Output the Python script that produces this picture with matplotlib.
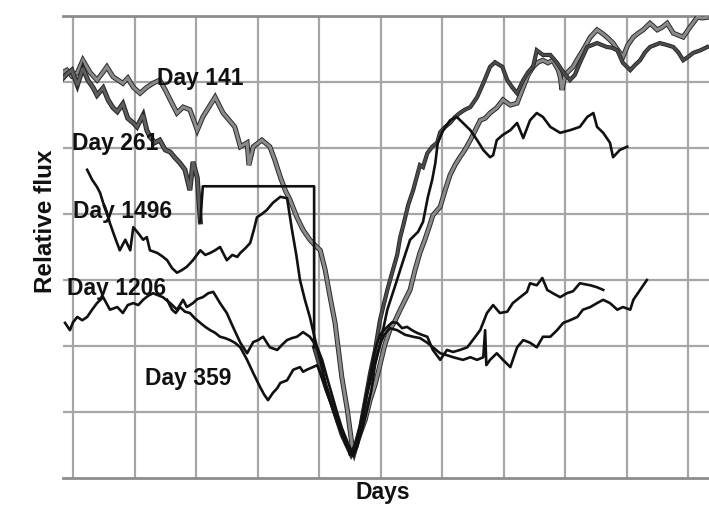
import matplotlib
matplotlib.use("Agg")
import matplotlib.pyplot as plt
import matplotlib.patheffects as pe

# ---- data (x: days in grid units, y: relative flux in grid units) ----
day141_x = [-0.16,-0.10,-0.02,0.07,0.16,0.28,0.39,0.49,0.55,0.65,0.73,0.81,0.89,0.98,1.09,1.20,1.30,1.41,1.50,1.58,
            1.69,1.79,1.90,2.02,2.11,2.23,2.31,2.44,2.54,2.63,2.72,2.83,2.86,2.93,3.07,3.20,3.28,3.37,3.45,3.53,
            3.64,3.74,3.85,3.93,4.02,4.10,4.18,4.26,4.31,4.37,4.46,4.54,4.57,4.63,4.75,4.83,4.91,4.99,5.07,5.15,
            5.24,5.32,5.40,5.48,5.56,5.64,5.72,5.80,5.85,5.97,6.05,6.13,6.21,6.29,6.37,6.46,6.54,6.62,6.70,6.78,
            6.89,6.99,7.11,7.22,7.32,7.40,7.48,7.56,7.64,7.72,7.80,7.89,7.92,7.95,8.00,8.13,8.21,8.29,8.41,8.52,
            8.60,8.68,8.78,8.86,8.94,9.02,9.11,9.19,9.27,9.38,9.50,9.58,9.66,9.76,9.84,9.92,10.03,10.15,10.23,10.31]
day141_y = [6.15,6.18,6.09,6.14,6.33,6.14,6.03,6.15,6.23,6.08,6.03,5.98,6.06,5.92,5.83,5.92,5.98,6.03,5.88,5.73,
            5.53,5.62,5.58,5.27,5.47,5.65,5.77,5.53,5.42,5.32,5.02,5.08,4.74,5.02,5.12,5.02,4.82,4.56,4.36,4.21,
            3.95,3.76,3.61,3.53,3.45,3.15,2.74,2.35,1.98,1.53,1.03,0.47,0.38,0.58,0.88,1.18,1.41,1.71,2.02,2.24,
            2.39,2.55,2.70,2.85,3.15,3.41,3.61,3.83,3.98,4.11,4.36,4.59,4.74,4.86,4.97,5.12,5.27,5.42,5.45,5.53,
            5.61,5.73,5.65,5.68,5.92,6.11,6.23,6.30,6.33,6.29,6.33,6.18,6.08,5.88,6.11,6.23,6.36,6.48,6.68,6.79,
            6.74,6.68,6.59,6.48,6.38,6.56,6.68,6.74,6.79,6.89,6.79,6.83,6.89,6.74,6.71,6.68,6.83,6.98,6.97,6.98]

day261_x = [-0.16,-0.10,-0.02,0.07,0.16,0.24,0.33,0.39,0.49,0.57,0.65,0.72,0.81,0.89,0.98,1.04,1.14,1.20,1.25,1.33,
            1.41,1.50,1.58,1.66,1.74,1.82,1.90,1.95,2.02,2.07,2.11,3.92,3.92,3.98,4.05,4.13,4.21,4.29,4.37,4.46,
            4.52,4.59,4.67,4.75,4.83,4.91,4.99,5.11,5.20,5.27,5.32,5.37,5.45,5.53,5.64,5.69,5.76,5.84,5.92,5.97,
            6.05,6.13,6.21,6.29,6.37,6.46,6.57,6.67,6.78,6.86,6.98,7.06,7.14,7.22,7.32,7.40,7.48,7.54,7.64,7.76,
            7.87,7.97,8.08,8.16,8.24,8.36,8.44,8.52,8.60,8.68,8.76,8.85,8.94,9.06,9.14,9.22,9.30,9.38,9.46,9.54,
            9.66,9.76,9.84,9.92,10.00,10.08,10.20,10.31]
day261_y = [6.06,6.12,6.18,5.95,6.21,6.03,5.91,5.80,5.91,5.73,5.61,5.55,5.67,5.45,5.38,5.32,5.50,5.27,5.17,5.08,
            5.12,4.97,4.94,4.85,4.77,4.67,4.36,4.79,4.55,3.88,4.42,4.42,1.98,1.79,1.56,1.33,1.11,0.88,0.65,0.47,
            0.35,0.50,0.77,1.18,1.59,1.94,2.39,2.85,3.15,3.38,3.65,3.83,4.14,4.36,4.74,4.71,4.92,5.02,5.08,5.24,
            5.32,5.38,5.47,5.53,5.58,5.62,5.77,5.98,6.23,6.30,6.23,6.03,5.92,5.83,6.03,6.15,6.23,6.48,6.41,6.41,
            6.29,6.15,6.03,6.11,6.29,6.53,6.56,6.59,6.56,6.53,6.52,6.48,6.29,6.18,6.26,6.33,6.45,6.53,6.56,6.59,
            6.56,6.53,6.45,6.33,6.38,6.44,6.48,6.53]
# Day 261 has a data gap (samples 29..32) that the source bridges with a straight black connector
day261_gap = (29, 33)

day1496_x = [0.23,0.31,0.39,0.44,0.49,0.55,0.60,0.68,0.76,0.85,0.93,0.98,1.06,1.14,1.20,1.25,1.37,1.45,1.53,1.61,
             1.69,1.77,1.85,1.95,2.07,2.15,2.23,2.31,2.39,2.50,2.59,2.67,2.72,2.80,2.88,2.94,2.99,3.07,3.15,3.25,
             3.37,3.48,3.56,3.63,3.69,3.77,3.85,3.93,4.02,4.11,4.23,4.34,4.46,4.55,4.62,4.70,4.78,4.88,4.99,5.11,
             5.24,5.37,5.48,5.61,5.69,5.77,5.84,5.89,5.93,6.02,6.13,6.24,6.34,6.46,6.57,6.67,6.78,6.83,6.89,6.99,
             7.11,7.22,7.32,7.43,7.54,7.64,7.76,7.92,8.08,8.24,8.36,8.46,8.52,8.62,8.73,8.78,8.89,9.01]
day1496_y = [4.67,4.52,4.41,4.32,4.17,4.03,3.86,3.65,3.45,3.61,3.45,3.80,3.71,3.61,3.65,3.45,3.41,3.36,3.30,3.18,
             3.11,3.15,3.20,3.30,3.45,3.38,3.41,3.45,3.50,3.30,3.38,3.35,3.41,3.48,3.56,3.76,3.95,4.00,4.06,4.17,
             4.26,4.24,3.76,3.38,3.00,2.70,2.44,2.12,1.79,1.41,1.03,0.76,0.53,0.38,0.58,0.88,1.26,1.64,2.02,2.55,
             2.92,3.30,3.61,3.73,3.88,4.26,4.52,4.77,5.08,5.27,5.42,5.47,5.38,5.27,5.12,4.97,4.86,4.89,5.12,5.20,
             5.27,5.38,5.15,5.42,5.53,5.47,5.32,5.23,5.27,5.32,5.47,5.53,5.32,5.23,5.08,4.86,4.97,5.02]

day1206_x = [-0.13,-0.05,0.00,0.07,0.15,0.23,0.31,0.39,0.49,0.60,0.72,0.81,0.89,0.98,1.06,1.14,1.22,1.30,1.38,1.46,
             1.58,1.69,1.79,1.85,1.95,2.02,2.11,2.20,2.28,2.39,2.50,2.60,2.72,2.83,2.93,3.01,3.09,3.20,3.32,3.40,
             3.48,3.56,3.64,3.74,3.85,3.97,4.05,4.13,4.21,4.29,4.37,4.46,4.50,4.59,4.67,4.75,4.83,4.91,4.99,5.11,
             5.19,5.27,5.35,5.43,5.51,5.59,5.67,5.76,5.85,5.97,6.08,6.18,6.29,6.41,6.50,6.62,6.73,6.83,6.94,7.06,
             7.15,7.27,7.38,7.43,7.54,7.63,7.71,7.80,7.92,8.03,8.13,8.24,8.41,8.52,8.62]
day1206_y = [2.35,2.24,2.36,2.44,2.39,2.44,2.55,2.65,2.74,2.55,2.59,2.50,2.62,2.65,2.62,2.70,2.76,2.80,2.77,2.74,
             2.65,2.55,2.70,2.59,2.65,2.71,2.74,2.80,2.82,2.65,2.50,2.29,2.05,1.89,2.06,2.09,2.14,1.98,1.94,2.02,
             2.09,2.12,2.14,2.21,2.14,1.98,1.79,1.52,1.26,1.00,0.76,0.55,0.35,0.50,0.80,1.18,1.56,1.94,2.17,2.29,
             2.36,2.35,2.27,2.29,2.24,2.20,2.17,2.14,1.94,1.79,1.94,1.91,1.94,1.98,2.09,2.24,2.50,2.62,2.50,2.52,
             2.65,2.74,2.82,2.95,2.92,3.03,2.85,2.80,2.74,2.80,2.83,2.95,2.92,2.89,2.85]

day359_x = [1.53,1.61,1.67,1.74,1.82,1.90,1.98,2.07,2.15,2.23,2.31,2.39,2.47,2.55,2.63,2.72,2.83,2.93,3.04,3.11,
            3.17,3.25,3.32,3.37,3.48,3.58,3.69,3.74,3.80,3.90,3.97,4.03,4.11,4.20,4.28,4.36,4.44,4.50,4.55,4.62,
            4.70,4.78,4.85,4.91,4.99,5.06,5.15,5.27,5.40,5.53,5.64,5.76,5.85,5.97,6.08,6.18,6.34,6.46,6.57,6.67,
            6.70,6.72,6.78,6.89,6.99,7.11,7.22,7.32,7.43,7.54,7.64,7.76,7.87,7.97,8.08,8.20,8.29,8.41,8.52,8.62,
            8.73,8.85,8.94,9.06,9.11,9.22,9.33]
day359_y = [2.70,2.55,2.50,2.59,2.52,2.50,2.42,2.35,2.29,2.24,2.20,2.14,2.12,2.09,2.05,1.98,1.79,1.59,1.38,1.26,
            1.18,1.29,1.36,1.44,1.48,1.64,1.68,1.61,1.64,1.68,1.71,1.56,1.33,1.11,0.88,0.68,0.50,0.39,0.33,0.47,
            0.73,1.03,1.33,1.71,2.02,2.17,2.27,2.24,2.17,2.14,2.12,2.05,1.98,1.89,1.86,1.83,1.79,1.83,1.79,1.83,
            2.24,1.71,1.79,1.89,1.79,1.68,1.98,2.09,2.05,1.98,2.14,2.14,2.24,2.35,2.39,2.44,2.55,2.59,2.65,2.70,
            2.65,2.55,2.59,2.55,2.70,2.85,3.00]

series_names = ["Day 141", "Day 261", "Day 1496", "Day 1206", "Day 359"]

# ---- figure ----
W, H = 709, 529
fig = plt.figure(figsize=(W / 100, H / 100), dpi=100)
ax = fig.add_axes([63 / W, 51 / H, 646 / W, 462 / H])
ax.set_xlim(-0.163, 10.34)
ax.set_ylim(0, 7)

grid_c = "#a6a6a6"
for gx in range(0, 11):
    ax.axvline(gx, color=grid_c, lw=1.6, zorder=1)
for gy in range(1, 7):
    ax.axhline(gy, color=grid_c, lw=1.6, zorder=1)
for s in ["left", "right"]:
    ax.spines[s].set_visible(False)
for s in ["top", "bottom"]:
    ax.spines[s].set_color("#8c8c8c")
    ax.spines[s].set_linewidth(2.0)
ax.set_xticks([])
ax.set_yticks([])

gray_fx = [pe.Stroke(linewidth=3.6, foreground="#2a2a2a"), pe.Normal()]
ax.plot(day141_x, day141_y, color="#8a8a8a", lw=2.2, zorder=3, path_effects=gray_fx, solid_joinstyle="miter")

g0, g1 = day261_gap
ax.plot(day261_x[:g0 + 1], day261_y[:g0 + 1], color="#5e5e5e", lw=2.0, zorder=3,
        path_effects=gray_fx, solid_joinstyle="miter")
ax.plot(day261_x[g0:g1], day261_y[g0:g1], color="#111111", lw=1.9, zorder=4)
ax.plot(day261_x[g1 - 1:], day261_y[g1 - 1:], color="#4a4a4a", lw=1.9, zorder=3,
        path_effects=[pe.Stroke(linewidth=3.0, foreground="#222222"), pe.Normal()], solid_joinstyle="miter")

ax.plot(day1496_x, day1496_y, color="#111111", lw=1.9, zorder=4)
ax.plot(day1206_x, day1206_y, color="#111111", lw=1.9, zorder=4)
ax.plot(day359_x, day359_y, color="#111111", lw=1.9, zorder=4)

lab_font = dict(family=["Liberation Sans", "DejaVu Sans"], fontweight="bold", fontsize=16.5, color="#111111")
label_pos = [(1.366, 5.955), (-0.016, 4.97), (0.0, 3.94), (-0.098, 2.77), (1.17, 1.41)]
for name, (lx, ly) in zip(series_names, label_pos):
    ax.text(lx, ly, name, ha="left", va="baseline", zorder=5, **lab_font)

fig.text(383 / W, 1 - 493 / H, "Days", ha="center", va="center", **lab_font)
fig.text(46 / W, 1 - 221 / H, "Relative flux", ha="center", va="center", rotation=90,
         family=["Liberation Sans", "DejaVu Sans"], fontweight="bold", fontsize=17.5, color="#111111")

fig.savefig("out.png", dpi=100, facecolor="white")
